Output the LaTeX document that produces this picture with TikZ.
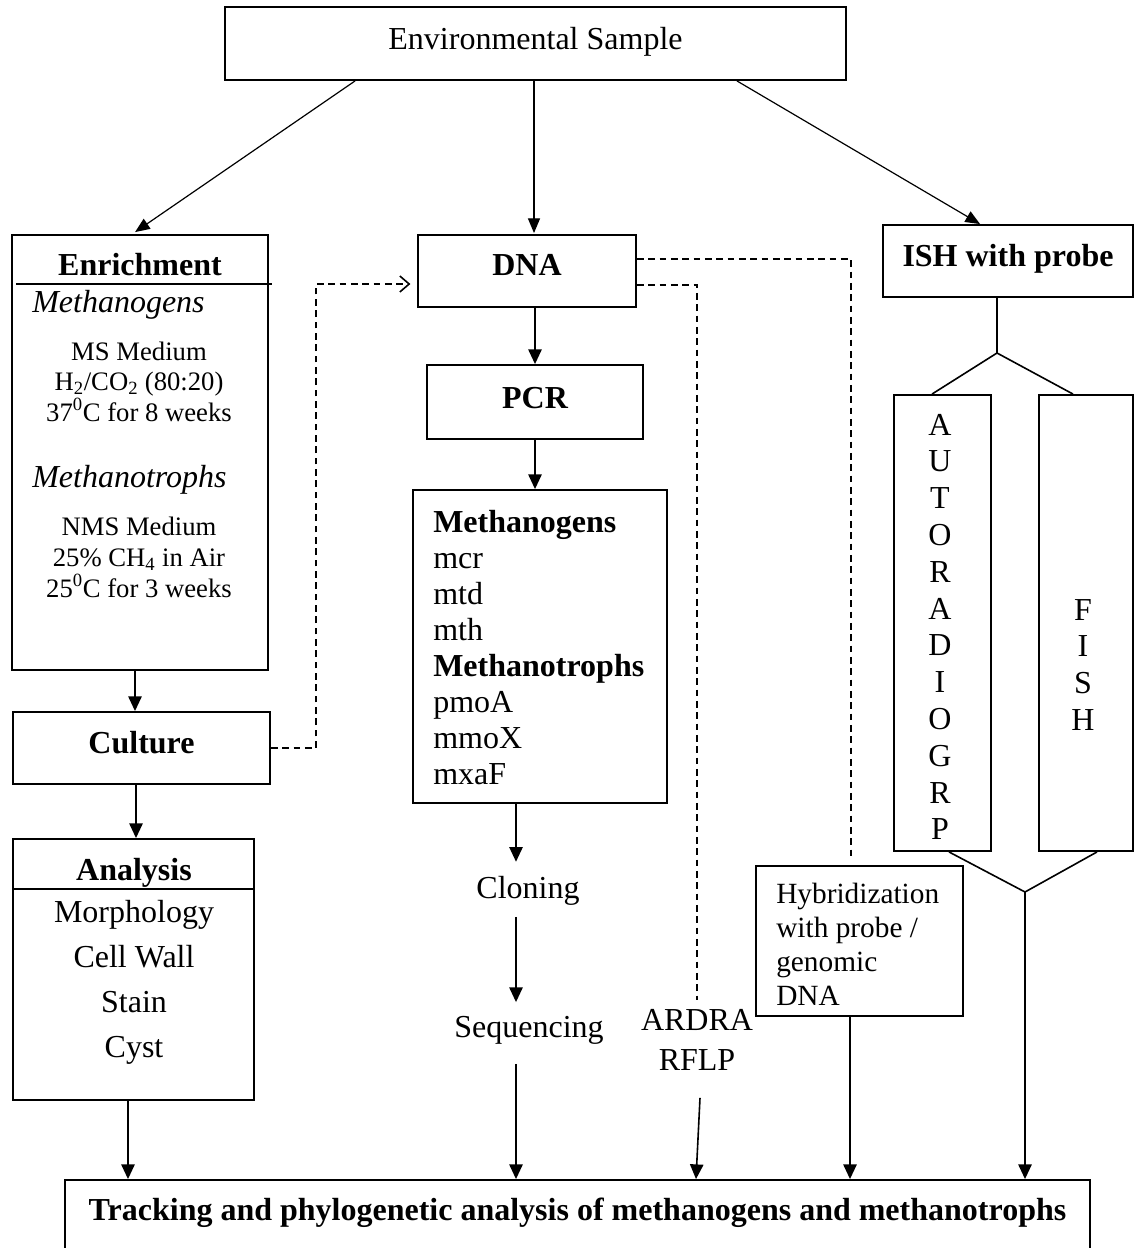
\documentclass[tikz,border=0pt]{standalone}
\usepackage{fontspec}
\setmainfont{Liberation Serif}
\usetikzlibrary{arrows.meta,calc}
\newcommand\fszA{\fontsize{24pt}{27.6pt}\selectfont}
\newcommand\fszB{\fontsize{22pt}{25.3pt}\selectfont}
\newcommand\fszC{\fontsize{20pt}{23pt}\selectfont}
\begin{document}
\begin{tikzpicture}[x=0.75pt,y=-0.75pt,
  bx/.style={draw, line width=1.4pt, inner sep=0pt},
  lbl/.style={inner sep=0pt, anchor=base, text height=16pt, text depth=5pt},
  arr/.style={line width=1.2pt, -{Triangle[length=11pt,width=10pt]}},
  tarr/.style={line width=0.9pt, -{Triangle[length=11pt,width=9pt]}},
  dsh/.style={line width=1.2pt, dash pattern=on 5pt off 3.5pt},
  ln/.style={line width=1.2pt}]
\useasboundingbox (0,0) rectangle (1135,1248);
\fill[white] (0,0) rectangle (1135,1248);
\clip (0,0) rectangle (1135,1248);

% top
\node[bx, minimum width=465.75pt, text height=32.25pt, text depth=22.5pt, font=\fszA] (env) at (535.5,43.5) {Environmental Sample};

% enrichment
\node[bx, minimum width=192pt, minimum height=326.25pt] (enr) at (140,452.5) {};
\node[lbl, font=\fszA\bfseries] (enrT) at (140,275) {Enrichment};
\draw[ln] ($(enr.north west)+(5,50)$) -- ($(enr.north east)+(3,50)$);
\node[lbl, anchor=base west, font=\fszA\itshape] (mgI) at (32,312) {Methanogens};
\foreach \t [count=\i] in {{MS Medium}, {H\textsubscript{2}/CO\textsubscript{2} (80:20)}, {37\textsuperscript{0}C for 8 weeks}}
  \node[lbl, font=\fszC] (ms\i) at (139, 329.5+30.5*\i) {\t};
\node[lbl, anchor=base west, font=\fszA\itshape] (mtI) at (32,487) {Methanotrophs};
\foreach \t [count=\i] in {{NMS Medium}, {25\% CH\textsubscript{4} in Air}, {25\textsuperscript{0}C for 3 weeks}}
  \node[lbl, font=\fszC] (nm\i) at (139, 504+31*\i) {\t};

% culture
\node[bx, minimum width=192.75pt, text height=30.75pt, text depth=23.25pt, font=\fszA\bfseries] (cul) at (141.5,748) {Culture};

% analysis
\node[bx, minimum width=180.75pt, minimum height=195.75pt] (ana) at (133.5,969.5) {};
\node[lbl, font=\fszA\bfseries] (anaT) at (134,880) {Analysis};
\draw[ln] ($(ana.north west)+(0,51)$) -- ($(ana.north east)+(0,51)$);
\foreach \t [count=\i] in {Morphology, {Cell Wall}, Stain, Cyst}
  \node[lbl, font=\fszA] (an\i) at (134, 877+45*\i) {\t};

% DNA / PCR
\node[bx, minimum width=163.5pt, text height=30pt, text depth=24pt, font=\fszA\bfseries] (dna) at (527,271) {DNA};
\node[bx, minimum width=162pt, text height=32.25pt, text depth=23.25pt, font=\fszA\bfseries] (pcr) at (535,402) {PCR};

% genes
\node[bx, minimum width=190.5pt, minimum height=234.75pt] (gen) at (540,646.5) {};
\foreach \t [count=\i] in {{\bfseries Methanogens}, mcr, mtd, mth, {\bfseries Methanotrophs}, pmoA, mmoX, mxaF}
  \node[lbl, anchor=base west, font=\fszA] (g\i) at (433, 495.9+36.1*\i) {\t};

\node[lbl, font=\fszA] (clo) at (528,898) {Cloning};
\node[lbl, font=\fszA] (seq) at (529,1037) {Sequencing};
\node[lbl, font=\fszA] (ardra) at (697,1030) {ARDRA};
\node[lbl, font=\fszA] (rflp) at (697,1070) {RFLP};

% hybridization
\node[bx, minimum width=155.25pt, minimum height=112.5pt] (hyb) at (859.5,941) {};
\foreach \t [count=\i] in {Hybridization, {with probe /}, genomic, DNA}
  \node[lbl, anchor=base west, font=\fszB] (h\i) at (776, 869+34*\i) {\t};

% ISH
\node[bx, minimum width=187.5pt, text height=31.5pt, text depth=22.5pt, font=\fszA\bfseries] (ish) at (1008,261) {ISH with probe};
\node[bx, minimum width=72.75pt, minimum height=342pt] (aut) at (942.5,623) {};
\foreach \t [count=\i] in {A,U,T,O,R,A,D,I,O,G,R,P}
  \node[lbl, font=\fszA] (au\i) at (940, 398.2+36.8*\i) {\t};
\node[bx, minimum width=70.5pt, minimum height=342pt] (fish) at (1086,623) {};
\foreach \t [count=\i] in {F,I,S,H}
  \node[lbl, font=\fszA] (fi\i) at (1083, 583.3+36.7*\i) {\t};

% bottom
\node[bx, minimum width=768.75pt, text height=30pt, text depth=31.5pt, font=\fszA\bfseries] (trk) at (577.5,1221) {Tracking and phylogenetic analysis of methanogens and methanotrophs};

\coordinate (forkT) at (997,353);
\coordinate (forkB) at (1025,892);

% connectors
\draw[tarr] ($(env.south west)+(131,0)$) -- ($(enr.north west)+(124,-2)$);
\draw[tarr] ($(env.south)+(-1.5,0)$) -- ($(dna.north)+(7,-1)$);
\draw[tarr] ($(env.south east)+(-110,0)$) -- ($(ish.north west)+(98,0)$);

\draw[arr] ($(enr.south)+(-5,0)$) coordinate (p1) -- (p1 |- cul.north);
\draw[arr] ($(cul.south)+(-5.5,0)$) coordinate (p2) -- (p2 |- ana.north);
\draw[arr] ($(ana.south)+(-5.5,0)$) coordinate (p3) -- (p3 |- trk.north);
\draw[dsh, shorten >=5pt, -{Straight Barb[length=7pt,width=12pt]}] (cul.east) -- ++(45,0) |- ($(dna.west)+(0,13)$);

\draw[arr] ($(dna.south)+(8,0)$) coordinate (p4) -- (p4 |- pcr.north);
\draw[arr] (pcr.south) -- (pcr.south |- gen.north);
\draw[arr, shorten >=11pt] ($(gen.south)+(-24,0)$) coordinate (p5) -- (p5 |- clo.north);
\draw[arr, shorten <=9pt, shorten >=10pt] (p5 |- clo.south) -- (p5 |- seq.north);
\draw[arr, shorten <=15pt] (p5 |- seq.south) -- (p5 |- trk.north);

\draw[dsh, shorten >=6pt] ($(dna.east)+(0,14)$) -| (ardra.north);
\draw[arr] ($(rflp.south)+(3,21)$) -- ($(trk.north)+(118.5,0)$);
\draw[dsh, shorten >=6pt] ($(dna.east)+(0,-12)$) -| ($(hyb.north)+(-8.5,0)$);
\draw[arr] ($(hyb.south)+(-9.5,0)$) coordinate (p6) -- (p6 |- trk.north);

\draw[ln] ($(ish.south)+(-11,0)$) -- (forkT);
\draw[ln] ($(aut.north)+(-10.5,0)$) -- (forkT) -- ($(fish.north)+(-13,0)$);
\draw[ln] ($(aut.south)+(6.5,0)$) -- (forkB) -- ($(fish.south)+(11,0)$);
\draw[arr] (forkB) -- (forkB |- trk.north);
\end{tikzpicture}
\end{document}
